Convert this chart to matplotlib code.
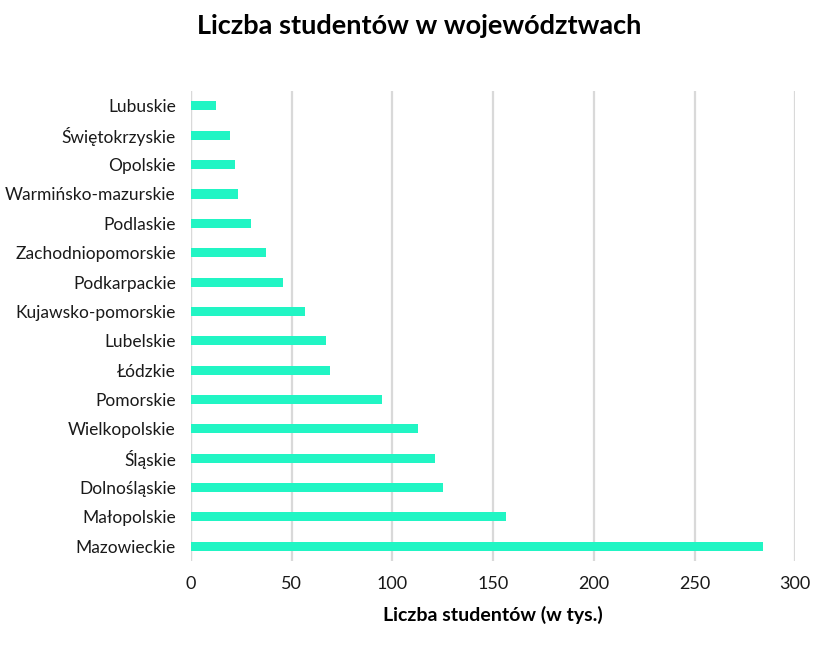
import matplotlib
matplotlib.use("Agg")
import matplotlib.pyplot as plt

regions = ["Mazowieckie", "Małopolskie", "Dolnośląskie", "Śląskie", "Wielkopolskie",
           "Pomorskie", "Łódzkie", "Lubelskie", "Kujawsko-pomorskie", "Podkarpackie",
           "Zachodniopomorskie", "Podlaskie", "Warmińsko-mazurskie", "Opolskie",
           "Świętokrzyskie", "Lubuskie"]
students = [284.2, 156.5, 125.2, 121.2, 112.8, 94.9, 69.1, 67.1, 56.6, 45.7,
            37.3, 29.8, 23.3, 21.9, 19.4, 12.4]
xticks = [0, 50, 100, 150, 200, 250, 300]

plt.rcParams['font.family'] = ['Lato', 'DejaVu Sans']

fig = plt.figure(figsize=(8.38, 6.47), dpi=100)
ax = fig.add_axes([0.228, 0.133, 0.721, 0.726])

pos = list(range(len(regions)))
ax.barh(pos, students, height=0.31, color="#21F5C4", zorder=3)
ax.set_yticks(pos)
ax.set_yticklabels(regions, fontsize=12.5, color="#1a1a1a")
ax.set_ylim(-0.5, len(regions) - 0.5)
ax.set_xlim(0, 300)
ax.set_xticks(xticks)
ax.set_xticklabels([str(t) for t in xticks], fontsize=13, color="#1a1a1a")
ax.grid(axis="x", color="#d9d9d9", linewidth=1.6, zorder=0)
for s in ax.spines.values():
    s.set_visible(False)
ax.axvline(0, color="#d9d9d9", linewidth=1.6, zorder=1)
ax.tick_params(axis="y", length=0, pad=11)
ax.tick_params(axis="x", length=0, pad=11)
ax.set_xlabel("Liczba studentów (w tys.)", fontsize=14, fontweight="bold", labelpad=10)
fig.suptitle("Liczba studentów w województwach", fontsize=19.5, fontweight="bold", y=0.978)

fig.savefig("out.png", dpi=100)
